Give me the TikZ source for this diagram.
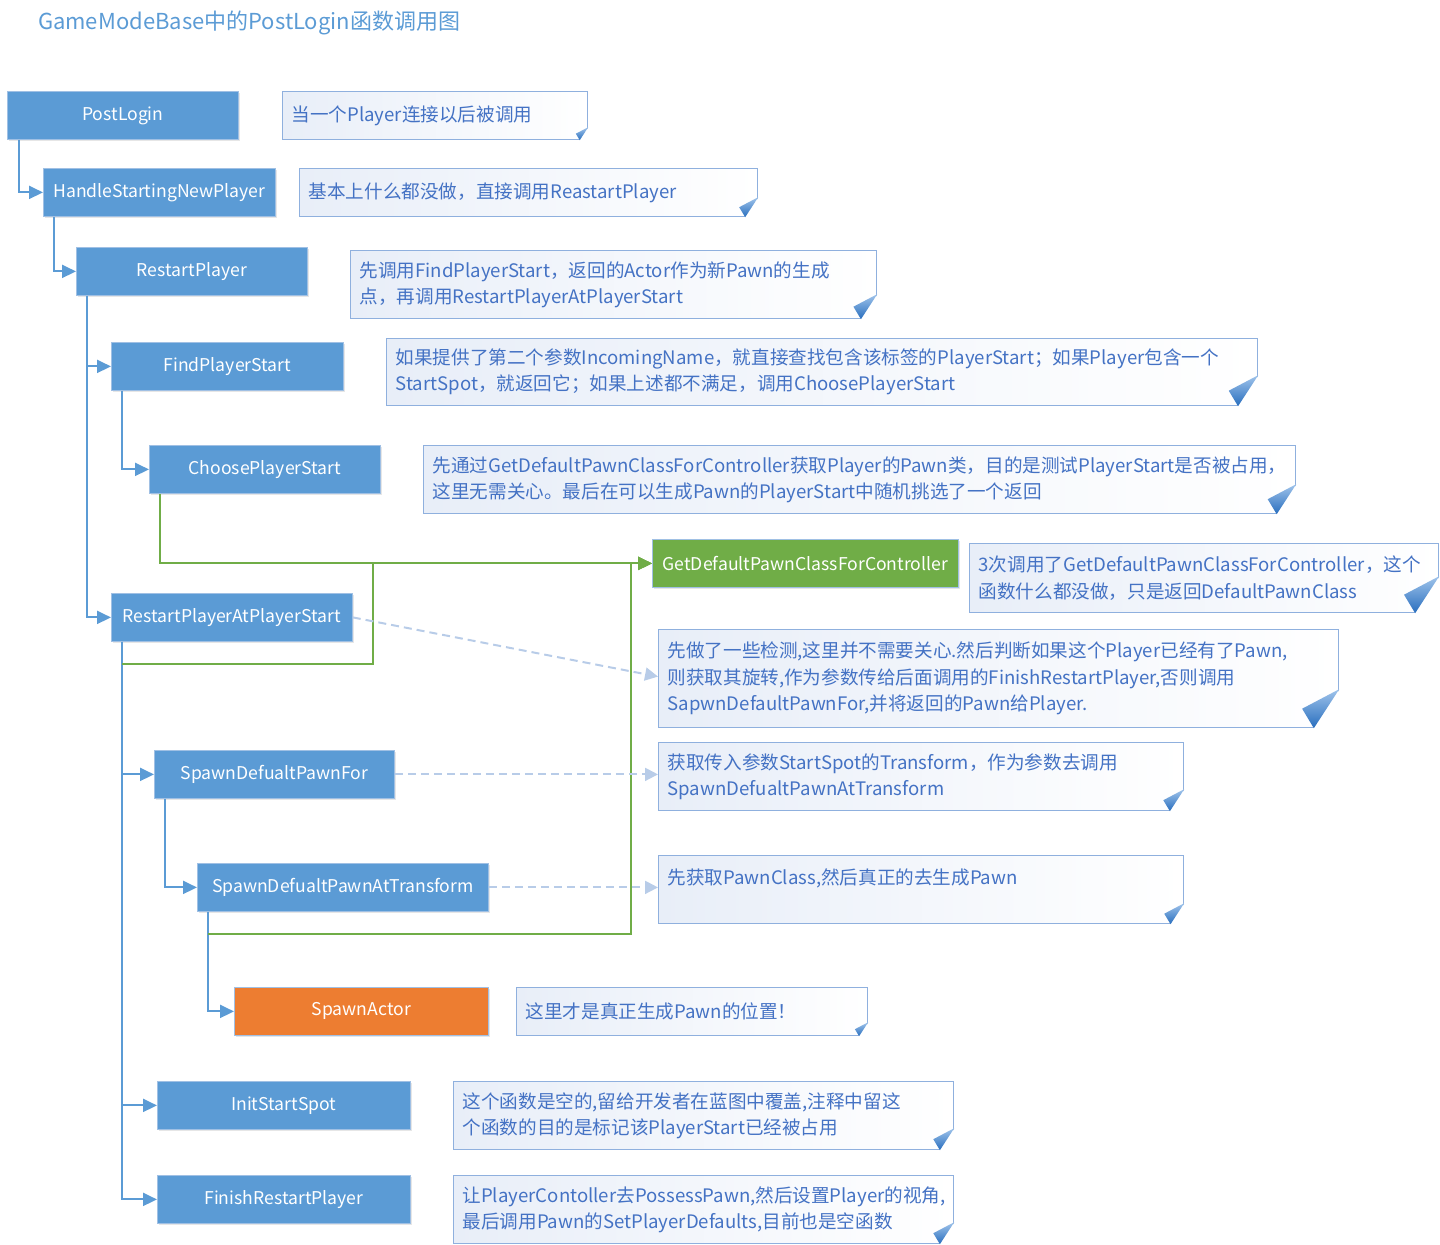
\documentclass[tikz,border=0pt]{standalone}
\usepackage{fontspec}
\setmainfont{Noto Sans CJK SC}
\usetikzlibrary{positioning, arrows.meta, calc, shadows}

\definecolor{funcblue}{RGB}{91,155,213}
\definecolor{funcedge}{RGB}{160,192,228}
\definecolor{getgreen}{RGB}{112,173,71}
\definecolor{spawnorange}{RGB}{237,125,49}
\definecolor{linkblue}{RGB}{91,155,213}
\definecolor{dashblue}{RGB}{184,204,232}
\definecolor{noteline}{RGB}{143,176,222}
\definecolor{notefill}{RGB}{232,238,248}
\definecolor{notetext}{RGB}{68,114,196}
\definecolor{foldlight}{RGB}{160,196,235}
\definecolor{folddark}{RGB}{40,110,190}

\begin{document}
\begin{tikzpicture}[
    x=0.5pt, y=-0.5pt,
    func/.style={
      rectangle,
      fill=funcblue,
      draw=funcedge,
      line width=0.4pt,
      text=white,
      anchor=north west,
      minimum height=24pt,
      inner sep=0pt,
      font=\fontsize{8.8}{11}\selectfont,
      drop shadow={shadow xshift=0.8pt, shadow yshift=-0.8pt, opacity=0.2, fill=black!50}
    },
    notebox/.style 2 args={
      rectangle,
      draw=noteline,
      line width=0.6pt,
      left color=notefill,
      right color=white,
      text=notetext,
      anchor=north west,
      align=left,
      text width=#1,
      minimum height=#2,
      inner xsep=4.5pt,
      inner ysep=0pt,
      font=\fontsize{9.3}{13.2}\selectfont
    },
    call link/.style={
      draw=linkblue,
      line width=1pt,
      -{Triangle[length=7pt,width=6.5pt]}
    },
    green link/.style={
      draw=getgreen,
      line width=1pt,
      -{Triangle[length=7pt,width=6.5pt]}
    },
    dash link/.style={
      draw=dashblue,
      line width=1pt,
      dash pattern=on 4pt off 2.5pt,
      -{Triangle[length=6.5pt,width=6.5pt,fill=dashblue]}
    }
  ]

    \useasboundingbox (0,0) rectangle (1440,1245);

    \node[anchor=west, text=funcblue, font=\fontsize{11}{13}\selectfont] (title) at (31,23)
      {GameModeBase中的PostLogin函数调用图};

    % function boxes
    \node[func, minimum width=115.5pt] (postlogin) at (7,91) {PostLogin};
    \node[func, minimum width=116pt] (handlenew) at (43,168) {HandleStartingNewPlayer};
    \node[func, minimum width=115.5pt] (restart) at (76,247) {RestartPlayer};
    \node[func, minimum width=116pt] (findstart) at (111,342) {FindPlayerStart};
    \node[func, minimum width=115.5pt] (choosestart) at (149,445) {ChoosePlayerStart};
    \node[func, minimum width=153pt, fill=getgreen] (getpawnclass) at (652,539) {GetDefaultPawnClassForController};
    \node[func, minimum width=120.5pt] (restartatstart) at (111,593) {RestartPlayerAtPlayerStart};
    \node[func, minimum width=120pt] (spawnpawnfor) at (154,750) {SpawnDefualtPawnFor};
    \node[func, minimum width=145.5pt] (spawnattransform) at (197,863) {SpawnDefualtPawnAtTransform};
    \node[func, minimum width=127pt, fill=spawnorange] (spawnactor) at (234,987) {SpawnActor};
    \node[func, minimum width=126.5pt] (initspot) at (157,1081) {InitStartSpot};
    \node[func, minimum width=126.5pt] (finishrestart) at (157,1175) {FinishRestartPlayer};

    % notes
    \node[notebox={143.5pt}{24pt}] (note1) at (282,91) {当一个Player连接以后被调用};
    \node[notebox={220pt}{24pt}] (note2) at (299,168) {基本上什么都没做，直接调用ReastartPlayer};
    \node[notebox={254pt}{34pt}] (note3) at (350,250)
      {先调用FindPlayerStart，返回的Actor作为新Pawn的生成\\点，再调用RestartPlayerAtPlayerStart};
    \node[notebox={426.5pt}{33.5pt}] (note4) at (386,338)
      {如果提供了第二个参数IncomingName，就直接查找包含该标签的PlayerStart；如果Player包含一个\\StartSpot，就返回它；如果上述都不满足，调用ChoosePlayerStart};
    \node[notebox={427pt}{34pt}] (note5) at (423,445)
      {先通过GetDefaultPawnClassForController获取Player的Pawn类，目的是测试PlayerStart是否被占用，\\这里无需关心。最后在可以生成Pawn的PlayerStart中随机挑选了一个返回};
    \node[notebox={225.5pt}{34.5pt}] (note6) at (969,543)
      {3次调用了GetDefaultPawnClassForController，这个\\函数什么都没做，只是返回DefaultPawnClass};
    \node[notebox={331pt}{49pt}] (note7) at (658,629)
      {先做了一些检测,这里并不需要关心.然后判断如果这个Player已经有了Pawn,\\则获取其旋转,作为参数传给后面调用的FinishRestartPlayer,否则调用\\SapwnDefaultPawnFor,并将返回的Pawn给Player.};
    \node[notebox={253.5pt}{34pt}] (note8) at (658,742)
      {获取传入参数StartSpot的Transform，作为参数去调用\\SpawnDefualtPawnAtTransform};
    \node[notebox={253.5pt}{34pt}] (note9) at (658,855)
      {先获取PawnClass,然后真正的去生成Pawn\\~};
    \node[notebox={166.5pt}{24pt}] (note10) at (516,987) {这里才是真正生成Pawn的位置！};
    \node[notebox={241pt}{34pt}] (note11) at (453,1081)
      {这个函数是空的,留给开发者在蓝图中覆盖,注释中留这\\个函数的目的是标记该PlayerStart已经被占用};
    \node[notebox={241pt}{34pt}] (note12) at (453,1175)
      {让PlayerContoller去PossessPawn,然后设置Player的视角,\\最后调用Pawn的SetPlayerDefaults,目前也是空函数};

    % folded corners
    \foreach \nt/\fs in {note1/13, note2/20, note3/25, note4/31, note5/30, note6/37,
                         note7/39, note8/22, note9/21, note10/14, note11/22, note12/22} {
      \fill[white] ($(\nt.south east)+(2,-\fs-2)$) -- ($(\nt.south east)+(2,2)$)
        -- ($(\nt.south east)+(-0.65*\fs-2,2)$) -- cycle;
      \shade[top color=foldlight, bottom color=folddark]
        ($(\nt.south east)+(0,-\fs)$) -- ($(\nt.south east)+(-0.65*\fs,0)$)
        -- ($(\nt.south east)+(-0.95*\fs,-0.5*\fs)$) -- cycle;
    }

    % calls
    \draw[call link] ($(postlogin.south west)+(12,0)$) |- (handlenew.west);
    \draw[call link] ($(handlenew.south west)+(11,0)$) |- (restart.west);
    \draw[call link] ($(restart.south west)+(11,0)$) |- (findstart.west);
    \draw[call link] ($(restart.south west)+(11,0)$) |- (restartatstart.west);
    \draw[call link] ($(findstart.south west)+(11,0)$) |- (choosestart.west);
    \draw[call link] ($(restartatstart.south west)+(11,0)$) |- (spawnpawnfor.west);
    \draw[call link] ($(restartatstart.south west)+(11,0)$) |- (initspot.west);
    \draw[call link] ($(restartatstart.south west)+(11,0)$) |- (finishrestart.west);
    \draw[call link] ($(spawnpawnfor.south west)+(11,0)$) |- (spawnattransform.west);
    \draw[call link] ($(spawnattransform.south west)+(11,0)$) |- (spawnactor.west);

    % three calls of GetDefaultPawnClassForController
    \draw[green link] ($(choosestart.south west)+(11,0)$) |- (getpawnclass.west);
    \draw[green link] ($(restartatstart.south west)+(11,22)$) -| ($(getpawnclass.west)+(-279,0)$)
      -- (getpawnclass.west);
    \draw[green link] ($(spawnattransform.south west)+(11,22)$) -| ($(getpawnclass.west)+(-21,0)$)
      -- (getpawnclass.west);

    % notes on the calls
    \draw[dash link] (restartatstart.east) -- ($(note7.west)+(0,-2)$);
    \draw[dash link] (spawnpawnfor.east) -- (spawnpawnfor.east -| note8.west);
    \draw[dash link] (spawnattransform.east) -- (spawnattransform.east -| note9.west);

  \end{tikzpicture}
\end{document}
